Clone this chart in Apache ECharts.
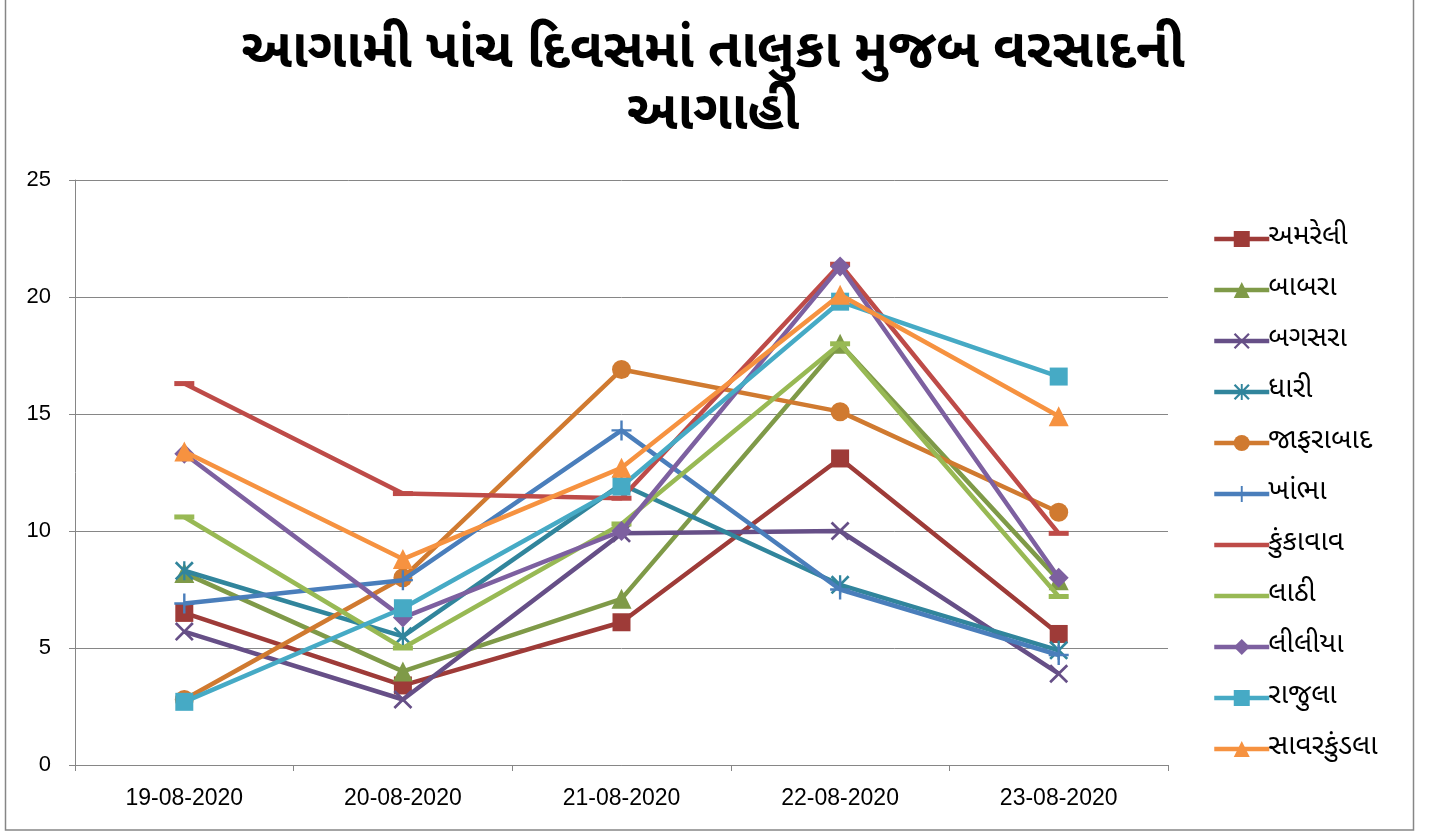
<!DOCTYPE html>
<html><head><meta charset="utf-8">
<script src="https://cdn.jsdelivr.net/npm/echarts@6/dist/echarts.min.js"></script>
<style>html,body{margin:0;padding:0;background:#fff;}#c{width:1429px;height:835px;}</style>
</head><body><div id="c"></div>
<script>
const dates = ['19-08-2020','20-08-2020','21-08-2020','22-08-2020','23-08-2020'];
const yTicks = [0,5,10,15,20,25];
const amreli      = [6.5, 3.4, 6.1, 13.1, 5.6];
const babra       = [8.2, 4.0, 7.1, 18.0, 7.9];
const bagasra     = [5.7, 2.8, 9.9, 10.0, 3.9];
const dhari       = [8.3, 5.5, 12.0, 7.7, 4.9];
const jafrabad    = [2.8, 8.0, 16.9, 15.1, 10.8];
const khambha     = [6.9, 7.9, 14.3, 7.5, 4.7];
const kunkavav    = [16.3, 11.6, 11.4, 21.4, 9.9];
const lathi       = [10.6, 5.0, 10.3, 18.0, 7.2];
const liliya      = [13.3, 6.3, 10.0, 21.3, 8.0];
const rajula      = [2.7, 6.7, 11.9, 19.8, 16.6];
const savarkundla = [13.4, 8.8, 12.7, 20.1, 14.9];

const names = ['અમરેલી','બાબરા','બગસરા','ધારી','જાફરાબાદ','ખાંભા','કુંકાવાવ','લાઠી','લીલીયા','રાજુલા','સાવરકુંડલા'];
const values = [amreli,babra,bagasra,dhari,jafrabad,khambha,kunkavav,lathi,liliya,rajula,savarkundla];
const colors = ['#9E3B38','#7F9A48','#664F87','#31859C','#D07A30','#4A7EBB','#BE4B48','#98B954','#7D60A0','#46AAC5','#F69240'];
const X = 'M0,1 L1,0 L5,4 L9,0 L10,1 L6,5 L10,9 L9,10 L5,6 L1,10 L0,9 L4,5 Z';
const symbols = [
  ['rect',18],
  ['triangle',20],
  ['path://'+X,19],
  ['path://'+X+' M4.4,0 H5.6 V10 H4.4 Z',19],
  ['circle',19],
  ['path://M4.4,0 H5.6 V10 H4.4 Z M0,4.4 H10 V5.6 H0 Z',20],
  ['path://M0,0 H10 V2 H0 Z',[20,5]],
  ['path://M0,0 H10 V2 H0 Z',[20,5]],
  ['diamond',20],
  ['rect',18],
  ['triangle',20]
];
const font = "'Noto Sans Gujarati','Lohit Gujarati','Noto Sans','DejaVu Sans',sans-serif";
const series = names.map((n,i)=>({
  name:n, type:'line', data:values[i],
  symbol:symbols[i][0], symbolSize:symbols[i][1], showAllSymbol:true,
  lineStyle:{color:colors[i],width:4.5},
  itemStyle:{color:colors[i]},
  z: 2+i
}));
const legendData = names.map((n,i)=> (i===6||i===7) ? {name:n,itemStyle:{opacity:0}} : {name:n});
const chart = echarts.init(document.getElementById('c'),null,{renderer:'canvas'});
chart.setOption({
  animation:false,
  color:colors,
  title:{text:'આગામી પાંચ દિવસમાં તાલુકા મુજબ વરસાદની\nઆગાહી',left:708,top:21,textAlign:'center',
    textStyle:{fontSize:54,fontWeight:'bold',color:'#000',fontFamily:font,lineHeight:62}},
  grid:{left:75,right:261,top:180,bottom:70,containLabel:false},
  legend:{orient:'vertical',left:1207,top:218,itemGap:19,itemWidth:55,itemHeight:20,
    lineStyle:{width:4.5},
    textStyle:{fontSize:28,color:'#000',fontFamily:font,padding:[0,0,0,-6],lineHeight:32},data:legendData},
  xAxis:{type:'category',data:dates,boundaryGap:true,
    axisLine:{lineStyle:{color:'#868686',width:1}},
    axisTick:{show:true,length:6,lineStyle:{color:'#868686'},alignWithLabel:false,interval:0},
    axisLabel:{fontSize:23,color:'#000',margin:22,fontFamily:"'Liberation Sans','Noto Sans',sans-serif"}},
  yAxis:{type:'value',min:0,max:25,interval:5,
    axisLine:{show:true,lineStyle:{color:'#868686'}},
    axisTick:{show:true,length:6,lineStyle:{color:'#868686'}},
    splitLine:{lineStyle:{color:'#868686',width:1}},
    axisLabel:{fontSize:22,color:'#000',margin:24,fontFamily:"'Liberation Sans','Noto Sans',sans-serif"}},
  graphic:[{type:'rect',shape:{x:5.5,y:-2,width:1408,height:832},style:{fill:'none',stroke:'#868686',lineWidth:1.5},silent:true}],
  series:series
});
</script></body></html>
